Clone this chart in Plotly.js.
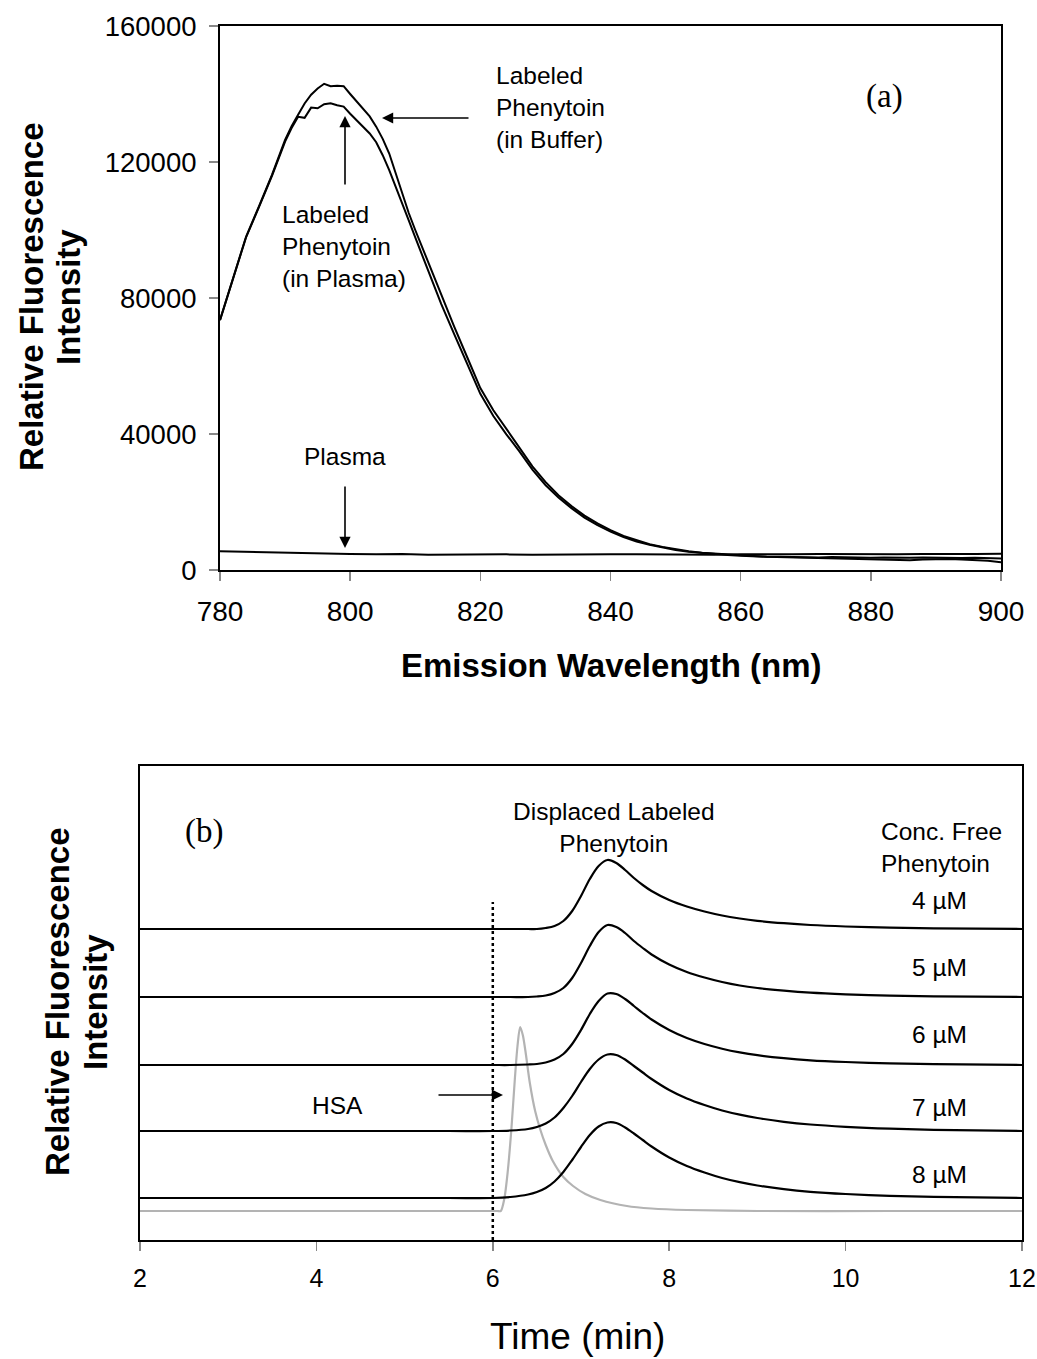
<!DOCTYPE html>
<html>
<head>
<meta charset="utf-8">
<script src="https://cdn.plot.ly/plotly-3.0.1.min.js"></script>
<style>html,body{margin:0;padding:0;background:#fff;}#chart{width:1037px;height:1359px;}</style>
</head>
<body>
<div id="chart"></div>
<script>
// ---------- Panel (a): emission spectra ----------
const waveBuffer = [780,782,784,786,788,790,791,792,793,794,795,796,797,798,799,800,801,802,803,804,805,806,807,808,809,810,812,814,816,818,820,822,824,826,828,830,832,834,836,838,840,842,844,846,848,850,852,854,856,858,860,862,864,866,868,870,872,874,876,878,880,882,884,886,888,890,892,894,896,898,900];
const labeledBuffer = [73500,86100,98000,107000,116300,126500,130500,133900,137200,139800,141600,143000,142300,142400,142300,140000,137800,135600,133400,130400,126800,122500,116500,110700,105000,100000,90500,80500,71500,62500,53500,47000,41500,36200,30500,25900,22000,18800,16000,13700,11700,10000,8700,7600,6800,6100,5500,5100,4800,4500,4300,4100,3900,3800,3700,3600,3500,3400,3400,3300,3200,3100,2900,2900,3100,3200,3200,3100,3000,2700,2300];
const labeledPlasma = [73500,86000,97800,106800,116000,126000,130000,133300,133000,136000,135800,137000,137300,136700,136300,134200,132300,130300,128400,125800,122000,117600,112800,107800,102800,97800,88000,78200,69300,60600,51800,45300,39900,34900,29500,25000,21300,18200,15400,13200,11300,9700,8400,7400,6600,5900,5400,5000,4700,4400,4200,4000,3900,3900,3800,3800,3700,3800,3700,3700,3600,3700,3600,3600,3700,3600,3600,3500,3600,3500,3400];
const wavePlasma = [780,784,788,792,796,800,804,808,812,816,820,824,828,832,836,840,844,848,852,856,860,864,868,872,876,880,884,888,892,896,900];
const plasmaOnly = [5500,5300,5100,4900,4800,4700,4600,4700,4500,4600,4500,4600,4500,4600,4500,4600,4600,4500,4500,4500,4600,4500,4600,4700,4600,4700,4600,4700,4600,4700,4800];
const xTicksA = [780,800,820,840,860,880,900];
const yTicksA = [0,40000,80000,120000,160000];

// ---------- Panel (b): chromatograms (stacked, arbitrary units) ----------
const timeGrid = [2,4,5.5,6.0,6.2,6.4,6.5,6.6,6.7,6.8,6.9,7.0,7.1,7.2,7.3,7.4,7.5,7.6,7.7,7.8,8.0,8.2,8.4,8.6,8.8,9.0,9.3,9.6,10.0,10.5,11.0,12.0];
const conc4 = [311,311,311,311,311,311,311,312,314,319,329,344,361,374,380,377,370,362,355,349,340,333.5,328.5,324.5,321.5,319.2,316.8,315,313.5,312.3,311.6,311];
const conc5 = [243,243,243,243,243,243,243.5,244.5,247,252,262,277,294,308,315,313,307,299,292,285.5,275.5,268,262.5,258,254.5,252,249.3,247.3,245.7,244.4,243.7,243];
const conc6 = [175,175,175,175,175,175.5,176,177.5,180.5,186,196,210,226,239,246.5,246,241,234,227,220.5,210,202,196,191.3,187.6,184.8,181.8,179.7,178,176.6,175.8,175];
const conc7 = [109,109,109,109,109.5,111,113,116.5,122.5,132,144,158,171,180.5,185.5,185,180.5,174,167.5,161,150,141.5,135,129.5,125.3,122,118.2,115.5,113.2,111.3,110.2,109];
const conc8 = [42,42,42,42,43,45.5,48,52,58.5,68,80,93,105,113.5,117.5,117,112.5,106.5,100,93.5,82.5,74,67.5,62,57.8,54.5,50.8,48.2,46,44.2,43.1,42];
const timeHSA = [2,4,5.5,6.05,6.09,6.13,6.17,6.21,6.25,6.28,6.31,6.34,6.37,6.42,6.48,6.54,6.6,6.68,6.8,6.91,7.05,7.22,7.52,7.8,8.2,9,10.5,12];
const hsa = [29,29,29,29,29,41,69,110,161,194,213,205,189,157,129,110,95,79,63,54,46,40,34,31.5,30,29,29,29];
const concLabels = ['4 \u00b5M','5 \u00b5M','6 \u00b5M','7 \u00b5M','8 \u00b5M'];
const xTicksB = [2,4,6,8,10,12];

const W = 1037, H = 1359;
const px = x => x / W;
const py = y => 1 - y / H;
const AR = 'Liberation Sans, Arial, sans-serif';
const TR = 'Liberation Serif, Times New Roman, serif';

const lineA = {color:'#000', width:2};
const lineB = {color:'#000', width:2.2, shape:'spline', smoothing:0.9};

const traces = [
  {x:waveBuffer, y:labeledBuffer, mode:'lines', line:lineA, xaxis:'x', yaxis:'y', hoverinfo:'skip'},
  {x:waveBuffer, y:labeledPlasma, mode:'lines', line:lineA, xaxis:'x', yaxis:'y', hoverinfo:'skip'},
  {x:wavePlasma, y:plasmaOnly, mode:'lines', line:lineA, xaxis:'x', yaxis:'y', hoverinfo:'skip'},
  {x:timeHSA, y:hsa, mode:'lines', line:{color:'#b3b3b3', width:2.2, shape:'spline', smoothing:0.8}, xaxis:'x2', yaxis:'y2', hoverinfo:'skip'},
  {x:timeGrid, y:conc4, mode:'lines', line:lineB, xaxis:'x2', yaxis:'y2', hoverinfo:'skip'},
  {x:timeGrid, y:conc5, mode:'lines', line:lineB, xaxis:'x2', yaxis:'y2', hoverinfo:'skip'},
  {x:timeGrid, y:conc6, mode:'lines', line:lineB, xaxis:'x2', yaxis:'y2', hoverinfo:'skip'},
  {x:timeGrid, y:conc7, mode:'lines', line:lineB, xaxis:'x2', yaxis:'y2', hoverinfo:'skip'},
  {x:timeGrid, y:conc8, mode:'lines', line:lineB, xaxis:'x2', yaxis:'y2', hoverinfo:'skip'}
];

function arrow(hx, hy, ax, ay) {
  return {xref:'paper', yref:'paper', x:px(hx), y:py(hy), ax:ax, ay:ay, text:'', showarrow:true,
          arrowhead:2, arrowsize:1.4, arrowwidth:1.6, arrowcolor:'#000', standoff:0, startstandoff:0};
}
function label(x, y, text, opts) {
  return Object.assign({xref:'paper', yref:'paper', x:px(x), y:py(y), text:text, showarrow:false,
          font:{family:AR, size:24.5, color:'#000'}, xanchor:'left', yanchor:'middle', align:'left'}, opts || {});
}
const titleFont = {family:AR, size:33, color:'#000'};

const concY = [900, 967, 1034, 1107, 1174];
const annotations = [
  // panel a
  label(494, 108, 'Labeled<br>Phenytoin<br>(in Buffer)'),
  arrow(382, 118, 88, 0),
  label(884, 97, '(a)', {xanchor:'center', font:{family:TR, size:33, color:'#000'}}),
  label(280, 247, 'Labeled<br>Phenytoin<br>(in Plasma)'),
  arrow(345, 116, 0, 70),
  label(345, 457, 'Plasma', {xanchor:'center'}),
  arrow(345, 548, 0, -63),
  label(31, 297, '<b>Relative Fluorescence</b>', {xanchor:'center', textangle:-90, font:titleFont}),
  label(68, 297, '<b>Intensity</b>', {xanchor:'center', textangle:-90, font:titleFont}),
  label(611, 665, '<b>Emission Wavelength (nm)</b>', {xanchor:'center', font:titleFont}),
  // panel b
  label(204, 831, '(b)', {xanchor:'center', font:{family:TR, size:33, color:'#000'}}),
  label(614, 827, 'Displaced Labeled<br>Phenytoin', {xanchor:'center', align:'center'}),
  label(879, 847, 'Conc. Free<br>Phenytoin'),
  label(337, 1105, 'HSA', {xanchor:'center'}),
  arrow(503, 1095, -66, 0),
  label(57, 1002, '<b>Relative Fluorescence</b>', {xanchor:'center', textangle:-90, font:titleFont}),
  label(95, 1002, '<b>Intensity</b>', {xanchor:'center', textangle:-90, font:titleFont}),
  label(577, 1336, 'Time (min)', {xanchor:'center', font:{family:AR, size:37, color:'#000'}})
];
concLabels.forEach((t, i) => annotations.push(label(939, concY[i], t, {xanchor:'center'})));

const layout = {
  width: W, height: H,
  margin: {l:0, r:0, t:0, b:0},
  paper_bgcolor:'#fff', plot_bgcolor:'#fff',
  showlegend:false,
  xaxis: {domain:[px(220), px(1001)], range:[780,900], tickvals:xTicksA, ticks:'outside', ticklen:9, tickcolor:'#888', tickwidth:1.5,
          ticklabelstandoff:6, showline:true, linecolor:'#000', linewidth:2, mirror:true, showgrid:false, zeroline:false,
          tickfont:{family:AR, size:28, color:'#000'}, anchor:'y', fixedrange:true},
  yaxis: {domain:[py(570), py(26)], range:[0,160000], tickvals:yTicksA, ticktext:yTicksA.map(String), ticks:'outside', ticklen:9, tickcolor:'#888', tickwidth:1.5,
          ticklabelstandoff:7, showline:true, linecolor:'#000', linewidth:2, mirror:true, showgrid:false, zeroline:false,
          tickfont:{family:AR, size:27.5, color:'#000'}, anchor:'x', fixedrange:true},
  xaxis2: {domain:[px(140), px(1022)], range:[2,12], tickvals:xTicksB, ticks:'outside', ticklen:9, tickcolor:'#888', tickwidth:1.5,
          ticklabelstandoff:6, showline:true, linecolor:'#000', linewidth:2, mirror:true, showgrid:false, zeroline:false,
          tickfont:{family:AR, size:25, color:'#000'}, anchor:'y2', fixedrange:true},
  yaxis2: {domain:[py(1240), py(766)], range:[0,474], showticklabels:false, ticks:'',
          showline:true, linecolor:'#000', linewidth:2, mirror:true, showgrid:false, zeroline:false, anchor:'x2', fixedrange:true},
  shapes: [
    {type:'line', xref:'x2', yref:'y2', x0:6, x1:6, y0:0, y1:338, line:{color:'#000', width:2.5, dash:'dot'}}
  ],
  annotations: annotations
};

Plotly.newPlot('chart', traces, layout, {displayModeBar:false, staticPlot:true});
</script>
</body>
</html>
